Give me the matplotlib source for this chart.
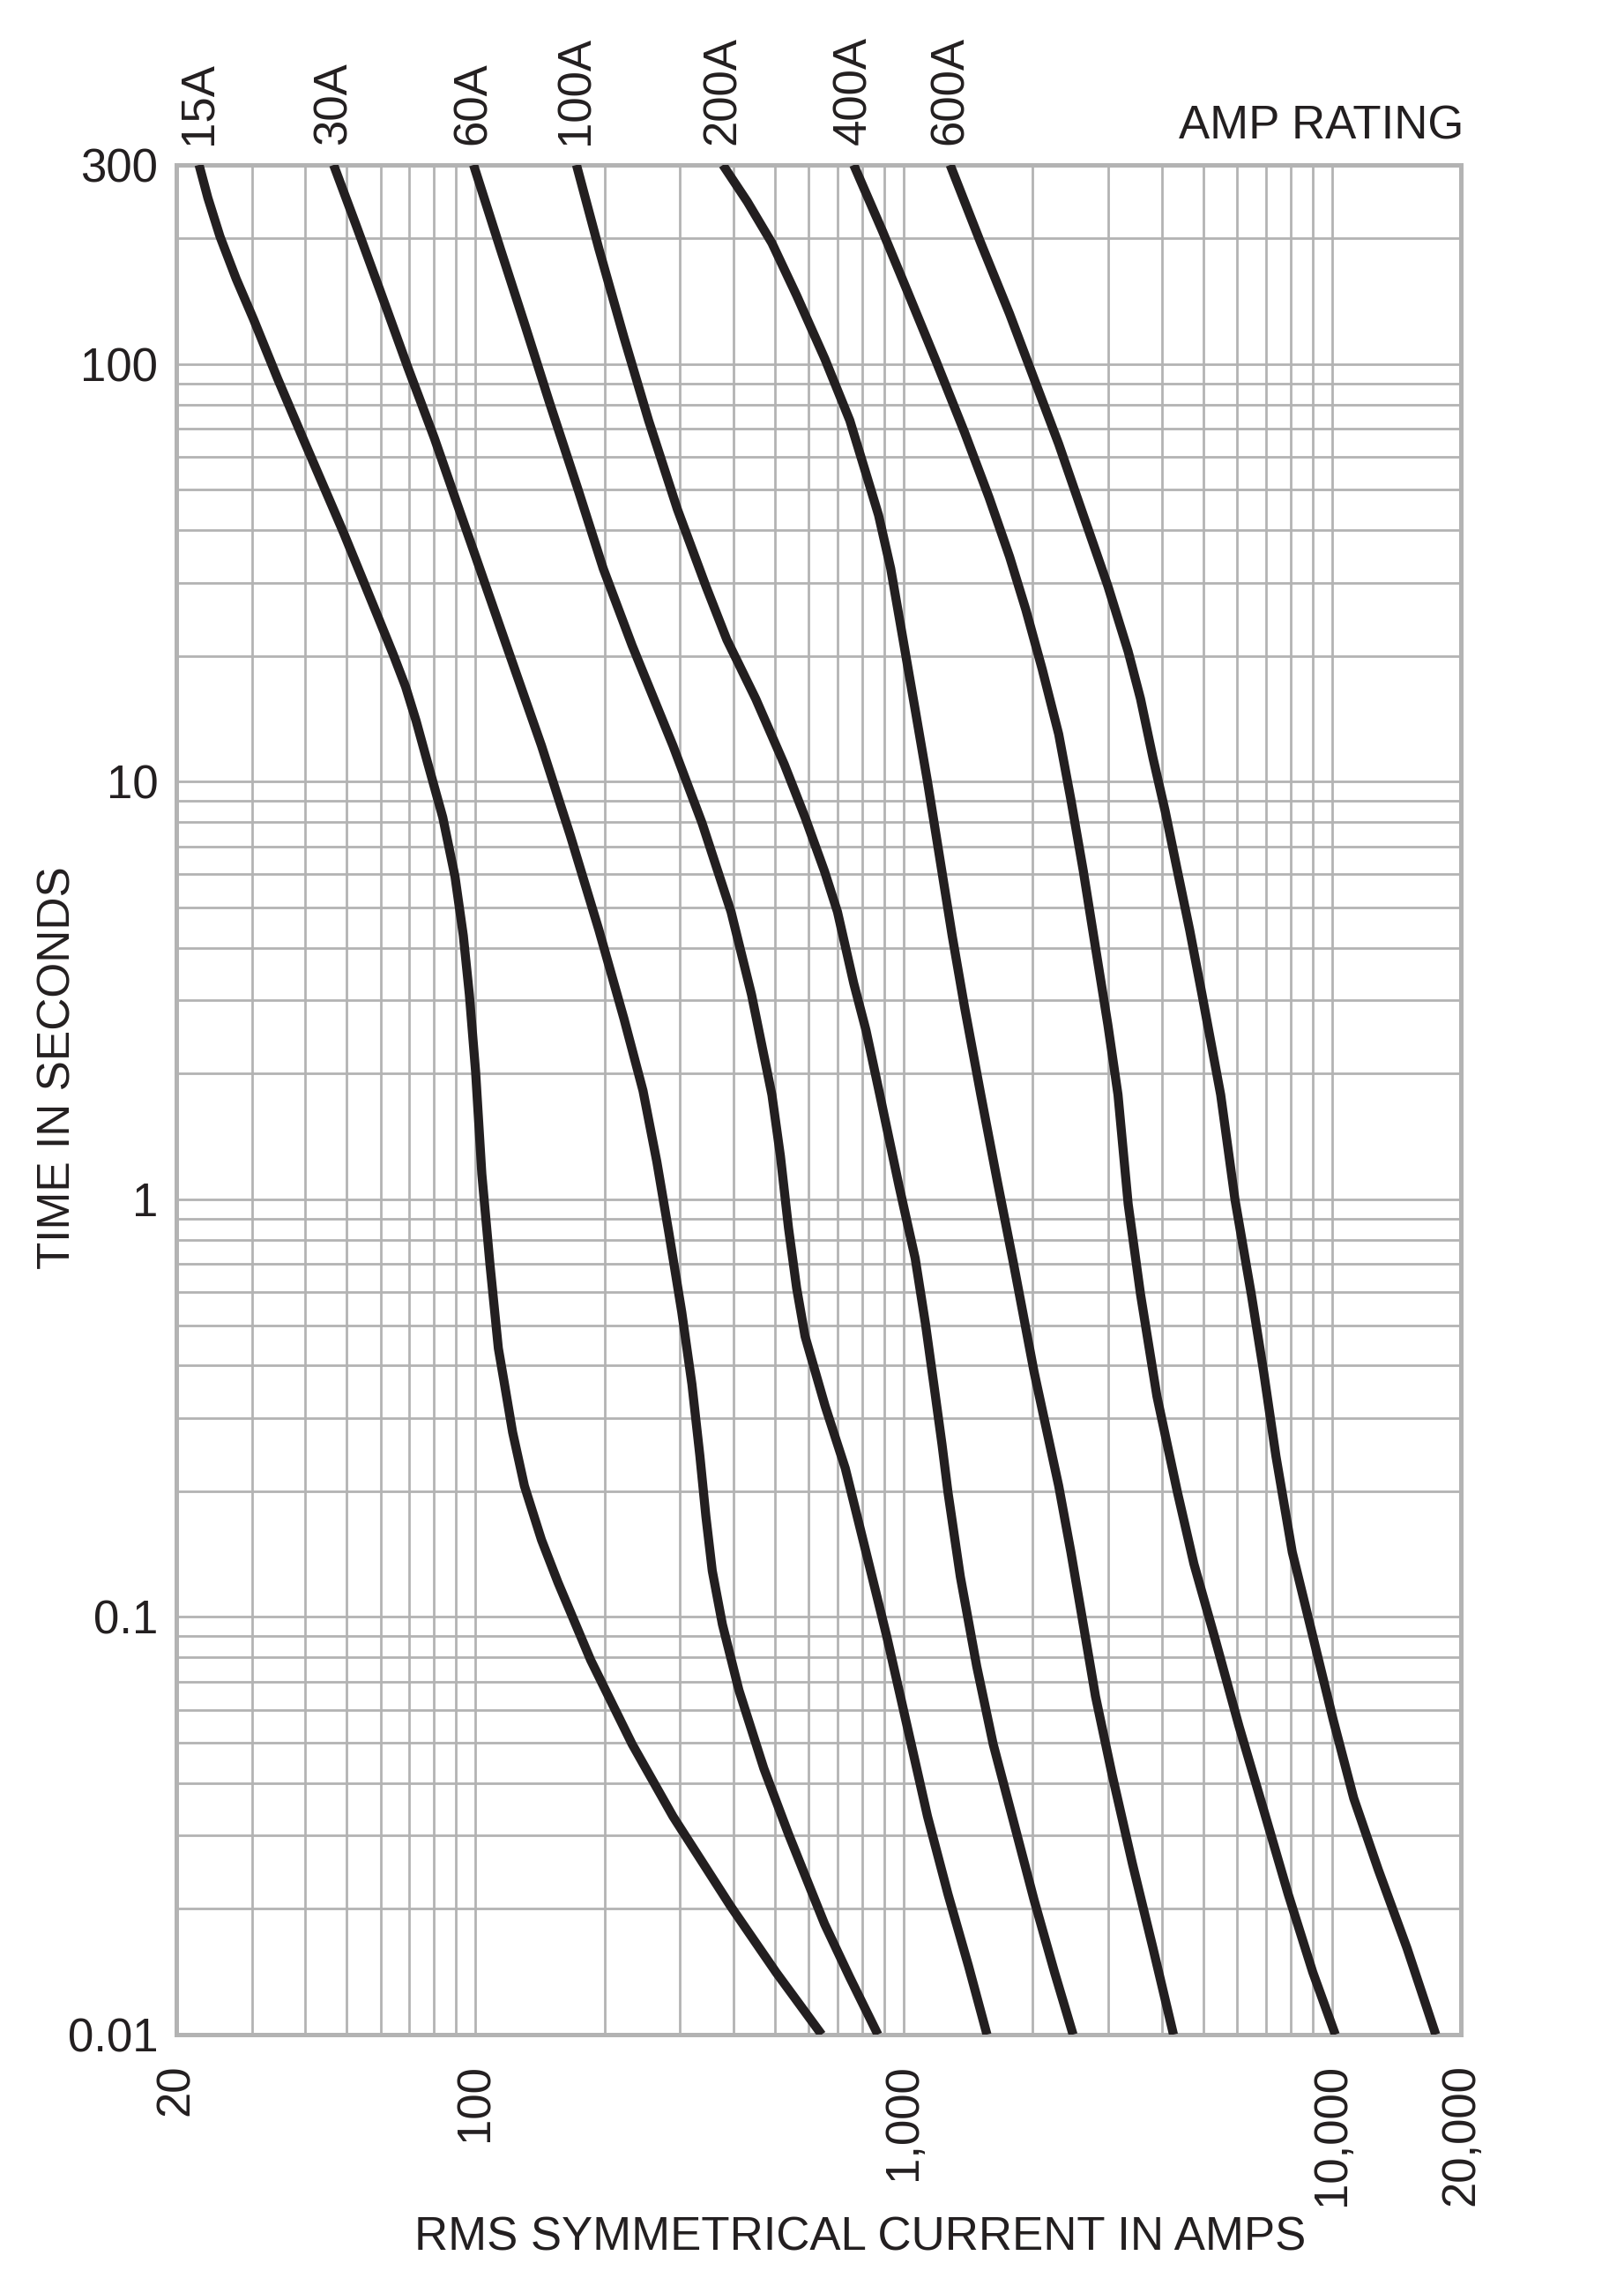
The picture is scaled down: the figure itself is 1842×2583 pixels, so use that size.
import matplotlib
matplotlib.use("Agg")
import matplotlib.pyplot as plt
from matplotlib.ticker import FixedLocator, FixedFormatter, NullFormatter
import numpy as np

# Fonts: Helvetica-like
plt.rcParams['font.family'] = ['Liberation Sans', 'DejaVu Sans']

# ------------------------------------------------------------------
# Data (current in A, time in s)
ratings = ["15A", "30A", "60A", "100A", "200A", "400A", "600A"]

amps_15 = [22.6, 23.7, 25.3, 27.6, 30.3, 34.5, 39.5, 49.2, 58.8, 64.3, 68.6, 72.6,
           76.7, 83.8, 89.5, 93.6, 96.7, 100, 103.4, 108, 113, 116.8, 122, 130,
           142.5, 155.7, 185.7, 232, 289, 394, 503, 643]
secs_15 = [300, 250, 202, 160, 128, 92.2, 66.5, 39.4, 25.2, 20.1, 16.9, 14.0,
           11.4, 8.22, 5.93, 4.28, 3.09, 2.02, 1.15, 0.70, 0.44, 0.361, 0.277,
           0.206, 0.153, 0.121, 0.0788, 0.0496, 0.0333, 0.0203, 0.0141, 0.01]

amps_30 = [46.6, 52.6, 60.1, 69.4, 80.1, 91.5, 100, 119.4, 142.5, 166.3, 194, 222,
           246, 265, 283, 303, 320, 334, 345, 357, 377, 412, 471, 538, 653, 748, 870]
secs_30 = [300, 215, 148, 98.4, 66.5, 44.9, 34.6, 20.5, 12.2, 7.45, 4.42, 2.71,
           1.82, 1.23, 0.826, 0.537, 0.361, 0.243, 0.174, 0.129, 0.096, 0.0668,
           0.0434, 0.0302, 0.0184, 0.0137, 0.01]

amps_60 = [98.9, 114.2, 130.4, 148.8, 174, 198.6, 232, 289, 338, 395, 441, 492,
           515, 538, 562, 588, 655, 730, 816, 912, 1018, 1136, 1268, 1416, 1564]
secs_60 = [300, 189, 124, 80.9, 49.6, 32.4, 21.2, 12.2, 7.96, 4.88, 3.09, 1.78,
           1.27, 0.853, 0.613, 0.470, 0.32, 0.227, 0.143, 0.090, 0.0548, 0.0333,
           0.0217, 0.0146, 0.01]

amps_100 = [172, 194, 222, 253.5, 296, 345, 386, 451, 526, 588, 653, 700, 764, 816,
            880, 974, 1063, 1124, 1175, 1228, 1268, 1355, 1480, 1617, 1805, 2015,
            2249, 2485]
secs_100 = [300, 189, 116, 73.3, 44.9, 29.4, 21.9, 15.8, 11.0, 8.22, 6.1, 4.88,
            3.29, 2.54, 1.77, 1.08, 0.723, 0.502, 0.361, 0.259, 0.199, 0.125,
            0.0762, 0.0496, 0.0323, 0.0210, 0.0141, 0.01]

amps_200 = [378, 431, 492, 562, 654, 748, 816, 873, 932, 996, 1064, 1136, 1214,
            1297, 1386, 1513, 1652, 1805, 2015, 2300, 2456, 2625, 2803, 3064, 3421,
            3819, 4264]
secs_200 = [300, 245, 195, 146, 103, 73.3, 54.7, 43.5, 32.4, 21.9, 14.8, 10, 6.54,
            4.28, 2.89, 1.78, 1.11, 0.70, 0.386, 0.206, 0.143, 0.096, 0.0646, 0.042,
            0.0256, 0.0161, 0.01]

amps_400 = [764, 892, 1018, 1188, 1386, 1581, 1766, 1928, 2105, 2300, 2456, 2625,
            2803, 2996, 3164, 3342, 3571, 3900, 4355, 4759, 5311, 6064, 6925, 7900,
            9018, 10180]
secs_400 = [300, 208, 150, 102, 68.7, 48, 34.6, 25.8, 18.6, 13.0, 9.06, 6.12, 4.01,
            2.62, 1.78, 0.974, 0.593, 0.338, 0.199, 0.134, 0.090, 0.0548, 0.0345,
            0.0217, 0.0141, 0.01]

amps_600 = [1283, 1513, 1766, 2015, 2300, 2625, 2997, 3342, 3571, 3819, 4078, 4355,
            4651, 4975, 5496, 5934, 6479, 6925, 7396, 8076, 9017, 10070, 11240,
            12830, 14970, 17470]
secs_600 = [300, 195, 132, 92.2, 64.4, 43.5, 29.4, 20.5, 15.8, 11.4, 8.50, 6.12,
            4.42, 3.08, 1.78, 1.0, 0.593, 0.386, 0.243, 0.143, 0.090, 0.0566, 0.0368,
            0.0248, 0.0161, 0.01]

curves = [(amps_15, secs_15), (amps_30, secs_30), (amps_60, secs_60),
          (amps_100, secs_100), (amps_200, secs_200), (amps_400, secs_400),
          (amps_600, secs_600)]

# Axis ticks
x_ticks = [20, 100, 1000, 10000, 20000]
x_tick_labels = ["20", "100", "1,000", "10,000", "20,000"]
y_ticks = [0.01, 0.1, 1, 10, 100, 300]
y_tick_labels = ["0.01", "0.1", "1", "10", "100", "300"]

# Grid positions
x_grid = [m * 10 ** e for e in (1, 2, 3) for m in range(2, 10)] + [10000]
y_grid = [m * 10 ** e for e in (-2, -1, 0, 1) for m in range(2, 10)] + [100, 200]

# ------------------------------------------------------------------
# Style
fontSize = 38
gridColor = '#b3b3b3'
curveColor = '#231f20'

fig = plt.figure(figsize=(18.42, 25.83), dpi=100)
ax = fig.add_axes([200 / 1842, 1 - 2307 / 2583, 1457 / 1842, 2120 / 2583])

ax.set_xscale('log')
ax.set_yscale('log')
ax.set_xlim(20, 20000)
ax.set_ylim(0.01, 300)

# Grid
ax.xaxis.set_major_locator(FixedLocator(x_ticks))
ax.xaxis.set_major_formatter(FixedFormatter(x_tick_labels))
ax.xaxis.set_minor_locator(FixedLocator(x_grid))
ax.xaxis.set_minor_formatter(NullFormatter())
ax.yaxis.set_major_locator(FixedLocator(y_ticks))
ax.yaxis.set_major_formatter(FixedFormatter(y_tick_labels))
ax.yaxis.set_minor_locator(FixedLocator(y_grid))
ax.yaxis.set_minor_formatter(NullFormatter())
ax.grid(True, which='both', color=gridColor, linewidth=2.0)
ax.set_axisbelow(True)

ax.tick_params(which='both', length=0)
ax.tick_params(axis='x', labelsize=fontSize, labelrotation=90, pad=24,
               labelcolor=curveColor)
ax.tick_params(axis='y', labelsize=fontSize, pad=15, labelcolor=curveColor)

for spine in ax.spines.values():
    spine.set_color(gridColor)
    spine.set_linewidth(3.6)

# Curves
for (amps, secs) in curves:
    ax.plot(amps, secs, color=curveColor, linewidth=7.4,
            solid_capstyle='butt', solid_joinstyle='round', zorder=3)

# Amp rating labels at the top of each curve
for name, (amps, secs) in zip(ratings, curves):
    ax.text(amps[0], 1.011, name, transform=ax.get_xaxis_transform(),
            rotation=90, ha='center', va='bottom', fontsize=fontSize,
            color=curveColor)

fig.text(1660 / 1842, 1 - 157 / 2583, "AMP RATING", ha='right', va='baseline',
         fontsize=fontSize, color=curveColor)

# Axis titles
fig.text(976 / 1842, 1 - 2537 / 2583, "RMS SYMMETRICAL CURRENT IN AMPS",
         ha='center', va='center', fontsize=fontSize, color=curveColor)
fig.text(66 / 1842, 1 - 1211 / 2583, "TIME IN SECONDS", rotation=90,
         ha='center', va='center', fontsize=fontSize - 1, color=curveColor)

fig.savefig("out.png", dpi=100, facecolor='white')
